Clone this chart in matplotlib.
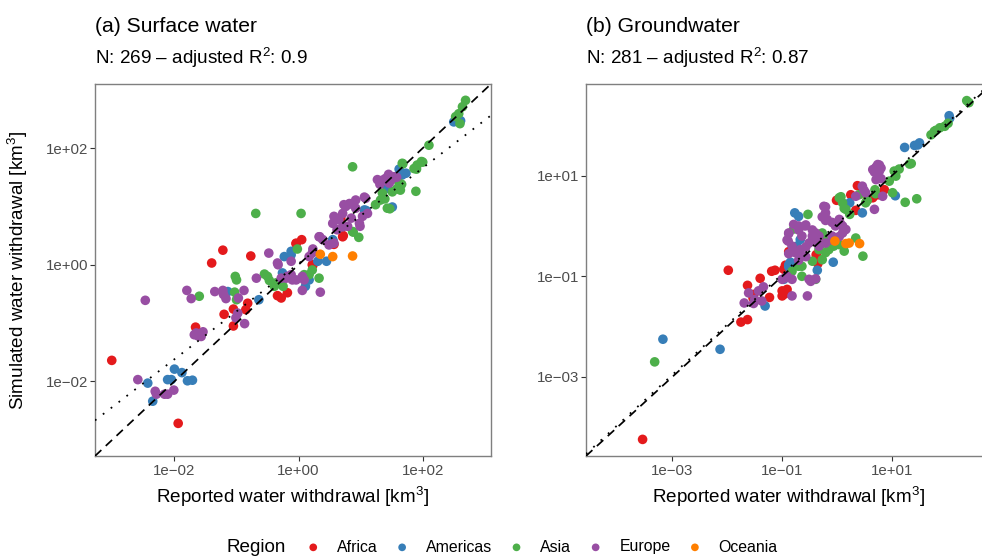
"""
Simulated vs reported water withdrawal, surface water and groundwater (log-log).
Values are log10(km3), read off the reference figure.
"""
import numpy as np
import matplotlib
matplotlib.use("Agg")
import matplotlib.pyplot as plt
from matplotlib.ticker import NullLocator

plt.rcParams["font.family"] = ["Liberation Sans", "DejaVu Sans"]
plt.rcParams["mathtext.fontset"] = "custom"
plt.rcParams["mathtext.rm"] = "Liberation Sans"
plt.rcParams["mathtext.it"] = "Liberation Sans:italic"
plt.rcParams["mathtext.bf"] = "Liberation Sans:bold"
plt.rcParams["mathtext.default"] = "regular"

# ── Data: (log10 reported, log10 simulated) ───────────────────────────────────

regions = ["Africa", "Americas", "Asia", "Europe", "Oceania"]
region_colors = ["#E41A1C", "#377EB8", "#4DAF4A", "#984EA3", "#FF7F00"]

sw_africa = [(-3.01, -1.64), (-1.94, -2.72), (-1.66, -1.07), (-1.40, 0.03), (-1.22, 0.25),
             (-1.20, -0.85), (-1.05, -0.76), (-1.05, -1.05), (-0.82, -0.66), (-0.85, -0.77),
             (-0.77, 0.15), (-0.34, -0.53), (-0.28, -0.57), (-0.18, -0.48), (-0.04, 0.37),
             (0.05, 0.43), (0.22, 0.00), (0.57, 0.35), (0.68, 0.80), (0.71, 0.48),
             (0.72, 0.50), (0.55, 0.36), (0.23, -0.01), (-0.04, 0.36)]
sw_americas = [(-2.43, -2.03), (-2.35, -2.34), (-2.11, -1.97), (-2.05, -1.97), (-2.00, -1.79),
               (-1.88, -1.85), (-1.79, -1.99), (-1.71, -1.98), (-0.64, -0.60), (-0.23, 0.14),
               (-0.12, 0.23), (-0.12, 0.17), (-0.26, -0.14), (0.11, -0.37), (0.17, -0.26),
               (0.31, 0.06), (0.45, 0.06), (0.55, 0.43), (1.06, 0.94), (1.62, 1.64),
               (1.67, 1.54), (1.73, 1.57), (1.43, 1.31), (1.51, 0.99), (2.50, 2.45),
               (2.57, 2.49), (2.61, 2.47), (0.55, 0.42), (1.09, 0.93), (-1.14, -0.46)]
sw_asia = [(-1.60, -0.54), (-1.02, -0.20), (-1.00, -0.26), (-1.03, -0.47), (-1.00, -0.60),
           (-0.69, 0.88), (-0.55, -0.16), (-0.50, -0.20), (-0.47, -0.27), (-0.39, -0.37),
           (-0.25, -0.37), (-0.36, -0.31), (-0.02, 0.27), (0.04, 0.88), (0.09, -0.17),
           (0.17, -0.17), (0.22, -0.09), (0.33, -0.23), (0.87, 1.68), (0.87, 0.57),
           (0.97, 0.47), (1.67, 1.74), (1.86, 1.65), (1.91, 1.71), (1.98, 1.77),
           (2.10, 2.05), (1.89, 1.26), (1.24, 1.03), (1.32, 1.11), (1.35, 1.23),
           (1.43, 0.97), (1.51, 1.25), (1.62, 1.40), (1.64, 1.28), (2.58, 2.59),
           (2.64, 2.71), (2.69, 2.82), (2.60, 2.42), (2.53, 2.54), (1.39, 1.13),
           (1.47, 0.96), (1.58, 1.30), (1.66, 1.38), (1.68, 1.73), (1.90, 1.64),
           (2.00, 1.76), (0.88, 0.56)]
sw_europe = [(-2.59, -1.97), (-2.31, -2.17), (-2.29, -2.22), (-2.16, -2.22), (-2.11, -2.22),
             (-2.01, -2.15), (-2.47, -0.61), (-1.80, -0.44), (-1.73, -0.58), (-1.65, -1.17),
             (-1.62, -1.22), (-1.54, -1.15), (-1.57, -1.23), (-1.68, -1.20), (-1.35, -0.46),
             (-1.22, -0.44), (-1.21, -0.51), (-1.17, -0.58), (-0.88, -0.44), (-0.98, -0.83),
             (-1.01, -0.91), (-0.87, -1.01), (-0.97, -0.57), (-0.48, 0.20), (-0.68, -0.23),
             (-0.34, 0.03), (-0.33, 0.00), (-0.28, -0.23), (-0.20, -0.23), (-0.12, -0.17),
             (-0.18, -0.20), (-0.12, 0.06), (-0.10, -0.26), (-0.04, -0.26), (0.06, -0.20),
             (0.09, -0.26), (0.06, -0.44), (0.35, -0.47), (0.17, 0.14), (0.22, 0.20),
             (0.33, 0.48), (0.39, 0.43), (0.49, 0.34), (0.57, 0.37), (0.55, 0.71),
             (0.57, 0.83), (0.65, 0.77), (0.71, 0.88), (0.76, 1.00), (0.79, 0.66),
             (0.73, 1.03), (0.82, 1.05), (0.92, 1.11), (0.92, 0.97), (0.98, 0.71),
             (1.03, 0.83), (1.08, 1.14), (1.11, 0.88), (0.99, 0.66), (1.27, 1.46),
             (1.35, 1.45), (1.40, 1.48), (1.46, 1.40), (1.54, 1.51), (1.49, 1.45),
             (0.34, 0.48), (0.23, 0.27), (0.71, 0.65), (0.82, 1.04), (1.06, 1.16),
             (1.31, 1.38), (1.45, 1.55), (1.58, 1.50), (0.62, 0.60), (0.85, 0.80)]
sw_oceania = [(0.35, 0.18), (0.55, 0.14), (0.87, 0.15)]

gw_africa = [(-3.54, -4.24), (-1.98, -0.88), (-1.75, -1.91), (-1.63, -1.86), (-1.63, -1.18),
             (-1.52, -1.36), (-1.53, -1.43), (-1.40, -1.04), (-1.23, -1.42), (-1.19, -0.90),
             (-1.13, -0.88), (-0.97, -0.86), (-1.00, -1.29), (-0.97, -1.36), (-0.91, -1.33),
             (-0.91, -1.26), (-1.00, -1.39), (-0.88, -0.51), (-0.38, -0.57), (-0.35, -0.75),
             (-0.01, 0.51), (0.37, 0.80), (0.25, 0.62), (0.34, 0.31), (0.55, 0.52),
             (0.65, 0.56), (0.74, 0.62), (0.86, 0.72), (-0.94, -0.78), (-0.30, -0.25)]
gw_americas = [(-3.17, -2.25), (-2.13, -2.45), (-1.31, -1.59), (-0.97, -1.06), (-0.88, -0.77),
               (-0.85, -0.72), (-0.36, -0.88), (-0.07, -0.72), (-0.77, 0.26), (-0.70, 0.19),
               (-0.67, -0.27), (-0.73, -0.40), (0.23, 0.46), (0.46, 0.26), (1.06, 0.60),
               (1.23, 1.56), (1.41, 1.60), (1.47, 1.61), (1.50, 1.65), (2.04, 2.19),
               (2.05, 2.14), (-0.85, -0.86), (-0.88, -0.81)]
gw_asia = [(-3.32, -2.70), (-0.82, -0.90), (-0.70, -0.80), (-0.64, -0.80), (-0.64, -1.00),
           (-0.39, -1.06), (-0.53, 0.23), (-0.79, -0.06), (-0.27, -0.14), (-0.18, -0.27),
           (-0.33, -0.47), (-0.21, -0.53), (-0.09, -0.40), (0.04, -0.37), (0.13, -0.50),
           (0.34, -0.24), (0.47, -0.60), (-0.27, -0.67), (-0.45, -0.70), (0.04, 0.56),
           (0.10, 0.46), (0.16, 0.33), (0.23, 0.23), (0.40, 0.62), (0.52, 0.46),
           (0.69, 0.72), (0.95, 0.89), (1.04, 1.09), (1.13, 1.13), (1.32, 1.23),
           (1.07, 0.99), (1.01, 0.66), (1.24, 0.47), (1.45, 0.54), (1.71, 1.81),
           (1.77, 1.88), (1.87, 1.95), (1.96, 1.98), (2.02, 2.04), (2.36, 2.49),
           (2.40, 2.45), (0.07, 0.58), (0.13, 0.35), (-0.06, -0.40), (-0.15, -0.47),
           (-0.30, -0.37), (0.55, 0.51), (0.70, 0.64), (1.35, 1.24), (1.80, 1.90)]
gw_europe = [(-1.69, -1.53), (-1.61, -1.33), (-1.43, -1.29), (-1.50, -1.46), (-1.37, -1.49),
             (-1.34, -1.21), (-1.52, -1.54), (-0.82, -1.39), (-0.54, -1.39), (-0.82, -1.06),
             (-1.00, -1.06), (-0.91, -1.00), (-0.94, -1.03), (-0.51, -1.06), (-0.48, -1.10),
             (-0.39, -1.05), (-0.88, -0.14), (-0.89, -0.30), (-0.82, -0.40), (-0.79, 0.03),
             (-0.70, 0.00), (-0.58, 0.00), (-0.64, -0.20), (-0.76, -0.53), (-0.67, -0.47),
             (-0.51, -0.34), (-0.45, -0.20), (-0.39, -0.14), (-0.33, -0.20), (-0.24, 0.39),
             (-0.21, 0.26), (-0.18, 0.13), (-0.09, 0.07), (-0.03, 0.00), (0.04, 0.13),
             (0.10, 0.00), (0.10, -0.14), (0.16, -0.07), (-0.09, -0.20), (-0.21, -0.34),
             (-0.33, -0.40), (0.34, 0.59), (0.46, 0.79), (0.52, 0.66), (0.65, 1.12),
             (0.74, 1.22), (0.80, 1.15), (0.83, 0.59), (0.68, 0.33), (0.71, 0.92),
             (0.77, 1.09), (0.71, 1.17), (0.77, 1.21), (0.68, 1.07), (0.80, 0.94),
             (0.49, 0.71), (-0.21, 0.38), (-0.27, 0.18), (-0.21, 0.11), (-0.45, -0.08),
             (-0.57, 0.02), (-0.70, -0.08), (-0.88, -0.15), (-0.91, -0.28), (-0.88, -0.55),
             (-0.70, -0.55), (-0.57, -0.42), (-0.45, -0.28), (-0.33, -0.35), (0.06, 0.05),
             (0.13, -0.08), (0.04, -0.21), (-0.09, -0.28), (-0.70, -0.68), (-0.57, -0.61)]
gw_oceania = [(-0.04, -0.30), (0.16, -0.35), (0.22, -0.34), (0.41, -0.35)]

# fitted lines in log10 space: intercept, slope
sw_fit = (0.02, 0.82)
gw_fit = (0.04, 1.00)

sw_lim_log = (-3.28, 3.10)
gw_lim_log = (-4.57, 2.82)

sw_ticks_log = [-2, 0, 2]
sw_tick_labels = ["1e\u221202", "1e+00", "1e+02"]
gw_ticks_log = [-3, -1, 1]
gw_tick_labels = ["1e\u221203", "1e\u221201", "1e+01"]

panels = [
    dict(title="(a) Surface water",
         subtitle="N: 269 \u2013 adjusted R$^{2}$: 0.9",
         groups=[sw_africa, sw_americas, sw_asia, sw_europe, sw_oceania],
         fit=sw_fit, lim=sw_lim_log, ticks=sw_ticks_log, labels=sw_tick_labels),
    dict(title="(b) Groundwater",
         subtitle="N: 281 \u2013 adjusted R$^{2}$: 0.87",
         groups=[gw_africa, gw_americas, gw_asia, gw_europe, gw_oceania],
         fit=gw_fit, lim=gw_lim_log, ticks=gw_ticks_log, labels=gw_tick_labels),
]

# ── Figure ────────────────────────────────────────────────────────────────────

W, H = 982, 556
fig = plt.figure(figsize=(W / 100, H / 100), dpi=100)

# axes boxes in pixels: left, top, right, bottom (right panel runs past the edge)
boxes = [(95, 84, 491, 456), (586, 84, 992, 456)]

handles = []
for i, (p, (l, t, r, b)) in enumerate(zip(panels, boxes)):
    ax = fig.add_axes([l / W, 1 - b / H, (r - l) / W, (b - t) / H])
    ax.set_xscale("log")
    ax.set_yscale("log")

    for pts, col, name in zip(p["groups"], region_colors, regions):
        arr = np.array(pts)
        sc = ax.scatter(10 ** arr[:, 0], 10 ** arr[:, 1], s=48, color=col,
                        edgecolors="none", zorder=2, label=name)
        if i == 0:
            handles.append(sc)

    lo, hi = p["lim"]
    xs = np.array([lo, hi])
    ax.plot(10 ** xs, 10 ** xs, color="black", lw=1.25, ls=(0, (5, 3.5)), zorder=3)
    a, k = p["fit"]
    ax.plot(10 ** xs, 10 ** (a + k * xs), color="black", lw=1.3, ls=(0, (1, 4.5)), zorder=3)

    ax.set_xlim(10 ** lo, 10 ** hi)
    ax.set_ylim(10 ** lo, 10 ** hi)
    tv = [10.0 ** v for v in p["ticks"]]
    ax.set_xticks(tv, labels=p["labels"])
    ax.set_yticks(tv, labels=p["labels"])
    ax.xaxis.set_minor_locator(NullLocator())
    ax.yaxis.set_minor_locator(NullLocator())
    ax.tick_params(axis="both", length=3.3, width=0.8, color="#333333",
                   labelcolor="#4D4D4D", labelsize=10.8)
    ax.tick_params(axis="x", pad=2.5)
    ax.tick_params(axis="y", pad=1.7)
    for sp in ax.spines.values():
        sp.set_color("#7F7F7F")
        sp.set_linewidth(1.0)

    cx = (l + r) / 2
    fig.text(l / W, 1 - 32.5 / H, p["title"], fontsize=15.2, va="baseline", ha="left")
    fig.text(l / W, 1 - 64 / H, p["subtitle"], fontsize=13.6, va="baseline", ha="left")
    fig.text(cx / W, 1 - 503 / H, "Reported water withdrawal [km$^{3}$]",
             fontsize=13.6, va="baseline", ha="center")

fig.text(18 / W, 1 - 270 / H, "Simulated water withdrawal [km$^{3}$]",
         fontsize=13.6, rotation=90, va="center", ha="center")

# legend along the bottom
fig.text(226 / W, 1 - 552 / H, "Region", fontsize=13.6, va="baseline", ha="left")
fig.legend(handles, regions, loc="center left", bbox_to_anchor=(299 / W, 1 - 547 / H),
           ncol=5, frameon=False, fontsize=11.4, markerscale=0.8, scatterpoints=1,
           handlelength=0.8, handletextpad=1.1, columnspacing=1.14, borderpad=0)

fig.savefig("out.png", dpi=100)
